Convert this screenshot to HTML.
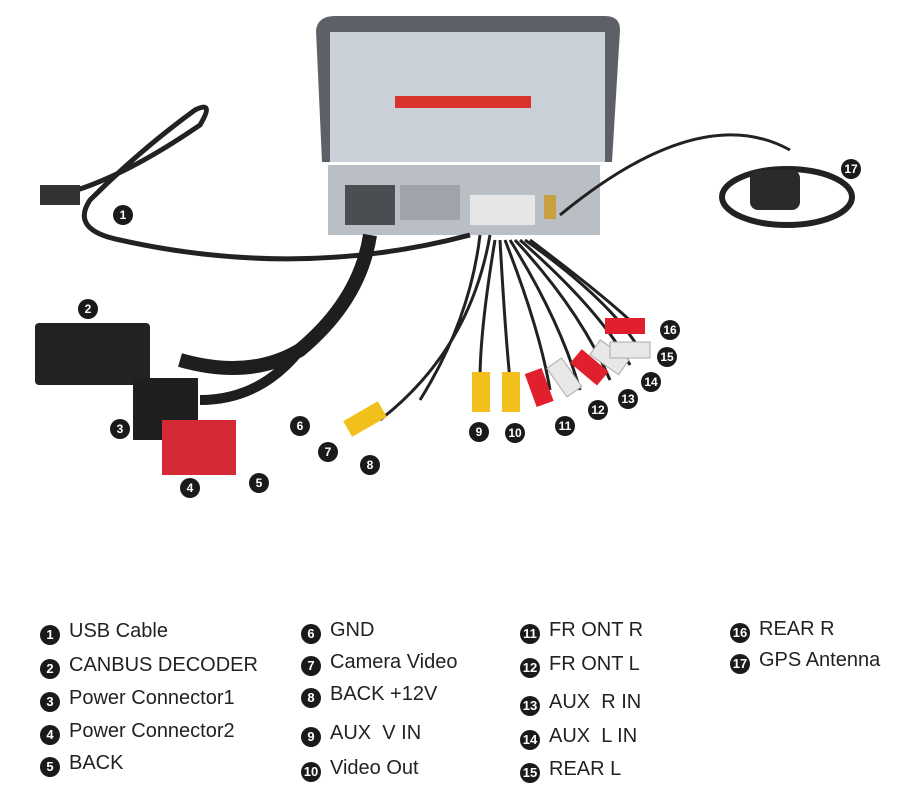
<!DOCTYPE html>
<html><head><meta charset="utf-8"><style>
body{margin:0;background:#fff;width:900px;height:802px;overflow:hidden;font-family:"Liberation Sans",sans-serif}
.l{position:absolute;font-size:20px;color:#222;white-space:nowrap;line-height:22px}
.c{display:inline-block;width:20px;height:20px;border-radius:50%;background:#1a1a1a;color:#fff;font-size:13px;text-align:center;line-height:20px;margin-right:9px;vertical-align:-2px;font-weight:bold}
</style></head><body>
<svg width="900" height="600" style="position:absolute;left:0;top:0" xmlns="http://www.w3.org/2000/svg">
<!-- head unit -->
<path d="M316 30 Q318 16 335 16 L605 16 Q620 16 620 30 L612 162 L322 162 Z" fill="#5d6167"/>
<rect x="330" y="32" width="275" height="130" fill="#c9d0d8"/>
<rect x="395" y="96" width="136" height="12" fill="#d8342c"/>
<rect x="328" y="165" width="272" height="70" fill="#b9bfc5"/>
<rect x="345" y="185" width="50" height="40" fill="#4a4d52"/>
<rect x="400" y="185" width="60" height="35" fill="#9ea4aa"/>
<rect x="470" y="195" width="65" height="30" fill="#e6e6e6"/>
<rect x="544" y="195" width="12" height="24" fill="#c8a040"/>
<!-- USB cable -->
<path d="M60 195 Q120 180 200 125 Q215 100 195 110 Q140 150 90 200 Q70 230 120 240 Q300 280 470 235" stroke="#222" stroke-width="5" fill="none"/>
<rect x="40" y="185" width="40" height="20" fill="#333"/>
<!-- GPS -->
<path d="M560 215 Q700 100 790 150" stroke="#222" stroke-width="3" fill="none"/>
<ellipse cx="787" cy="197" rx="65" ry="28" fill="none" stroke="#222" stroke-width="6"/>
<rect x="750" y="170" width="50" height="40" rx="8" fill="#2a2a2a"/>
<!-- harness -->
<path d="M370 235 Q360 300 300 350 Q250 380 180 360" stroke="#1e1e1e" stroke-width="14" fill="none"/>
<path d="M300 350 Q260 400 200 400" stroke="#1e1e1e" stroke-width="10" fill="none"/>
<path d="M480 235 Q470 320 420 400 M490 235 Q470 350 380 420 M495 240 Q480 330 480 380 M500 240 Q505 330 510 380 M505 240 Q540 330 550 390 M510 240 Q560 320 580 390 M515 240 Q580 310 610 380 M520 240 Q600 310 630 365 M525 240 Q610 300 640 350 M530 240 Q610 300 640 330" stroke="#222" stroke-width="3" fill="none"/>
<rect x="35" y="323" width="115" height="62" rx="4" fill="#222"/>
<rect x="133" y="378" width="65" height="62" fill="#1f1f1f"/>
<rect x="162" y="420" width="74" height="55" fill="#d42a36"/>
<!-- RCA -->
<g fill="#f2c01a"><rect x="472" y="372" width="18" height="40"/><rect x="502" y="372" width="18" height="40"/><rect x="345" y="410" width="40" height="18" transform="rotate(-30 365 419)"/></g>
<g fill="#e0202c"><rect x="530" y="370" width="18" height="35" transform="rotate(-20 539 387)"/><rect x="580" y="350" width="18" height="35" transform="rotate(-50 589 367)"/><rect x="605" y="318" width="40" height="16"/></g>
<g fill="#e8e8e8" stroke="#aaa"><rect x="555" y="360" width="18" height="35" transform="rotate(-35 564 377)"/><rect x="600" y="340" width="18" height="35" transform="rotate(-55 609 357)"/><rect x="610" y="342" width="40" height="16"/></g>
<g fill="#1a1a1a"><circle cx="123" cy="215" r="10"/><circle cx="88" cy="309" r="10"/><circle cx="120" cy="429" r="10"/><circle cx="190" cy="488" r="10"/><circle cx="259" cy="483" r="10"/><circle cx="300" cy="426" r="10"/><circle cx="328" cy="452" r="10"/><circle cx="370" cy="465" r="10"/><circle cx="479" cy="432" r="10"/><circle cx="515" cy="433" r="10"/><circle cx="565" cy="426" r="10"/><circle cx="598" cy="410" r="10"/><circle cx="628" cy="399" r="10"/><circle cx="651" cy="382" r="10"/><circle cx="667" cy="357" r="10"/><circle cx="670" cy="330" r="10"/><circle cx="851" cy="169" r="10"/></g>
<g fill="#fff" font-size="12" font-weight="bold" text-anchor="middle" font-family="Liberation Sans">
<text x="123" y="219">1</text><text x="88" y="313">2</text><text x="120" y="433">3</text><text x="190" y="492">4</text><text x="259" y="487">5</text><text x="300" y="430">6</text><text x="328" y="456">7</text><text x="370" y="469">8</text><text x="479" y="436">9</text><text x="515" y="437">10</text><text x="565" y="430">11</text><text x="598" y="414">12</text><text x="628" y="403">13</text><text x="651" y="386">14</text><text x="667" y="361">15</text><text x="670" y="334">16</text><text x="851" y="173">17</text></g>
</svg>
<div class="l" style="left:40px;top:620px"><span class="c">1</span>USB Cable</div>
<div class="l" style="left:40px;top:654px"><span class="c">2</span>CANBUS DECODER</div>
<div class="l" style="left:40px;top:687px"><span class="c">3</span>Power Connector1</div>
<div class="l" style="left:40px;top:720px"><span class="c">4</span>Power Connector2</div>
<div class="l" style="left:40px;top:752px"><span class="c">5</span>BACK</div>
<div class="l" style="left:301px;top:619px"><span class="c">6</span>GND</div>
<div class="l" style="left:301px;top:651px"><span class="c">7</span>Camera Video</div>
<div class="l" style="left:301px;top:683px"><span class="c">8</span>BACK +12V</div>
<div class="l" style="left:301px;top:722px"><span class="c">9</span>AUX&nbsp; V IN</div>
<div class="l" style="left:301px;top:757px"><span class="c">10</span>Video Out</div>
<div class="l" style="left:520px;top:619px"><span class="c">11</span>FR ONT R</div>
<div class="l" style="left:520px;top:653px"><span class="c">12</span>FR ONT L</div>
<div class="l" style="left:520px;top:691px"><span class="c">13</span>AUX&nbsp; R IN</div>
<div class="l" style="left:520px;top:725px"><span class="c">14</span>AUX&nbsp; L IN</div>
<div class="l" style="left:520px;top:758px"><span class="c">15</span>REAR L</div>
<div class="l" style="left:730px;top:618px"><span class="c">16</span>REAR R</div>
<div class="l" style="left:730px;top:649px"><span class="c">17</span>GPS Antenna</div>
</body></html>
